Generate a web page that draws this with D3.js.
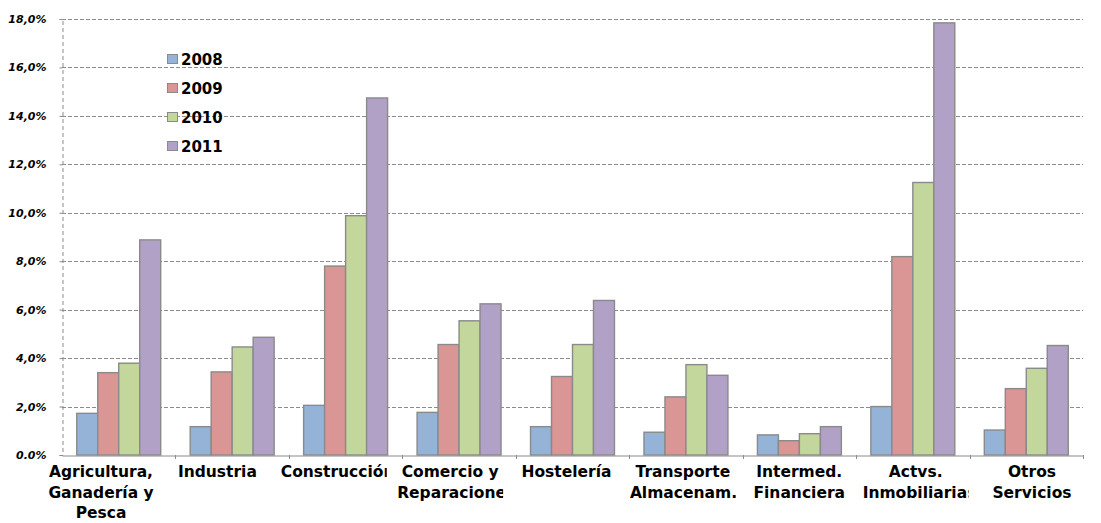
<!DOCTYPE html>
<html>
<head>
<meta charset="utf-8">
<script src="https://cdn.jsdelivr.net/npm/d3@7"></script>
<style>
  html, body { margin: 0; padding: 0; background: #ffffff; }
  svg { display: block; }
</style>
</head>
<body>
<svg id="chart" width="1101" height="523"></svg>
<script>
// Sectors (each label split into the lines it is printed on)
const categories = ["Agricultura", "Industria", "Construcción", "Comercio", "Hostelería",
                    "Transporte", "Intermed", "Actvs", "Otros"];
const categoryLines = [
  ["Agricultura,", "Ganadería y", "Pesca"],
  ["Industria"],
  ["Construcción"],
  ["Comercio y", "Reparaciones"],
  ["Hostelería"],
  ["Transporte", "Almacenam."],
  ["Intermed.", "Financiera"],
  ["Actvs.", "Inmobiliarias"],
  ["Otros", "Servicios"]
];

const years = ["2008", "2009", "2010", "2011"];
// Percentages per sector, one array per year
const v2008 = [1.72, 1.17, 2.05, 1.76, 1.17, 0.94, 0.83, 2.00, 1.03];
const v2009 = [3.40, 3.43, 7.80, 4.56, 3.24, 2.40, 0.59, 8.19, 2.74];
const v2010 = [3.79, 4.46, 9.88, 5.54, 4.56, 3.73, 0.88, 11.25, 3.58];
const v2011 = [8.88, 4.86, 14.74, 6.24, 6.38, 3.29, 1.17, 17.84, 4.52];

const yTickValues = [0, 2, 4, 6, 8, 10, 12, 14, 16, 18];
const yTickLabels = ["0.0%", "2,0%", "4,0%", "6,0%", "8,0%", "10,0%", "12,0%", "14,0%", "16,0%", "18,0%"];

const seriesValues = [v2008, v2009, v2010, v2011];
const colors = ["#95b3d7", "#d99694", "#c3d69b", "#b2a1c7"];
const FONT = "'DejaVu Sans', Verdana, sans-serif";

const svg = d3.select("#chart");
const plot = { left: 62, right: 1083, top: 19, bottom: 455 };

const x0 = d3.scaleBand().domain(categories).range([plot.left, plot.right]).padding(0);
const bw = x0.bandwidth();
const x1 = d3.scaleBand().domain(years).range([bw * 0.13, bw * 0.87]).padding(0);
const y = d3.scaleLinear().domain([0, 18]).range([plot.bottom, plot.top]);

// Horizontal dashed gridlines
svg.append("g")
  .selectAll("line")
  .data(yTickValues.filter(d => d > 0))
  .join("line")
  .attr("x1", plot.left).attr("x2", plot.right)
  .attr("y1", d => Math.round(y(d)) + 0.5).attr("y2", d => Math.round(y(d)) + 0.5)
  .attr("stroke", "#8c8c8c").attr("stroke-width", 1)
  .attr("stroke-dasharray", "4,2");

// Dashed value axis
const yAxis = d3.axisLeft(y).tickValues(yTickValues)
  .tickFormat((d, i) => yTickLabels[i]).tickSize(3).tickPadding(13);
const gy = svg.append("g").attr("transform", `translate(${plot.left + 0.5},0)`).call(yAxis);
gy.select(".domain").attr("stroke", "#8c8c8c").attr("stroke-dasharray", "4,3");
gy.selectAll(".tick line").attr("stroke", "#8c8c8c");
gy.selectAll(".tick text")
  .attr("fill", "#000").attr("font-family", FONT).attr("font-size", 11)
  .attr("font-weight", "bold").attr("font-style", "italic");

// Bars
const groups = svg.append("g").selectAll("g")
  .data(categories)
  .join("g")
  .attr("transform", d => `translate(${x0(d)},0)`);

groups.selectAll("rect")
  .data((c, ci) => years.map((yr, si) => ({ yr, si, v: seriesValues[si][ci] })))
  .join("rect")
  .attr("x", d => x1(d.yr))
  .attr("width", x1.bandwidth())
  .attr("y", d => y(d.v))
  .attr("height", d => y(0) - y(d.v))
  .attr("fill", d => colors[d.si])
  .attr("stroke", "#8a8a8a").attr("stroke-width", 1.4);

// Category axis baseline with small ticks at band boundaries
const xAxis = d3.axisBottom(x0).tickSize(0).tickFormat("");
const gx = svg.append("g").attr("transform", `translate(0,${plot.bottom + 0.5})`).call(xAxis);
gx.select(".domain").attr("stroke", "#8c8c8c").attr("stroke-width", 1.2);
gx.selectAll(".tick").remove();
svg.append("g").selectAll("line")
  .data(categories.slice(1).concat(["__end"]))
  .join("line")
  .attr("x1", (d, i) => Math.round(plot.left + bw * (i + 1)) + 0.5)
  .attr("x2", (d, i) => Math.round(plot.left + bw * (i + 1)) + 0.5)
  .attr("y1", plot.bottom).attr("y2", plot.bottom + 4)
  .attr("stroke", "#8c8c8c");

// Category labels: centred, long lines start at the box edge and get clipped
const labelX = d3.scalePoint().domain(categories).range([101, 1032]);
const boxW = 106;
const defs = svg.append("defs");
categories.forEach((c, i) => {
  const cx = labelX(c);
  defs.append("clipPath").attr("id", "clip" + i)
    .append("rect").attr("x", cx - boxW / 2).attr("y", 458).attr("width", boxW).attr("height", 65);
  const g = svg.append("g").attr("clip-path", `url(#clip${i})`);
  categoryLines[i].forEach((line, li) => {
    const t = g.append("text")
      .attr("y", 477 + li * 20.7)
      .attr("font-family", FONT).attr("font-size", 15.5).attr("font-weight", "bold")
      .attr("fill", "#000").text(line);
    const w = t.node().getComputedTextLength();
    if (w > boxW) {
      t.attr("x", cx - boxW / 2).attr("text-anchor", "start");
    } else {
      t.attr("x", cx).attr("text-anchor", "middle");
    }
  });
});

// Legend
const legend = svg.append("g").attr("transform", "translate(167,54)");
const items = legend.selectAll("g").data(years).join("g")
  .attr("transform", (d, i) => `translate(0,${i * 29})`);
items.append("rect")
  .attr("x", 0.5).attr("y", 0.5).attr("width", 10).attr("height", 9)
  .attr("fill", (d, i) => colors[i]).attr("stroke", "#8a8a8a").attr("stroke-width", 1);
items.append("text")
  .attr("x", 14).attr("y", 10.5)
  .attr("font-family", FONT).attr("font-size", 15).attr("font-weight", "bold")
  .attr("fill", "#000").text(d => d);
</script>
</body>
</html>
